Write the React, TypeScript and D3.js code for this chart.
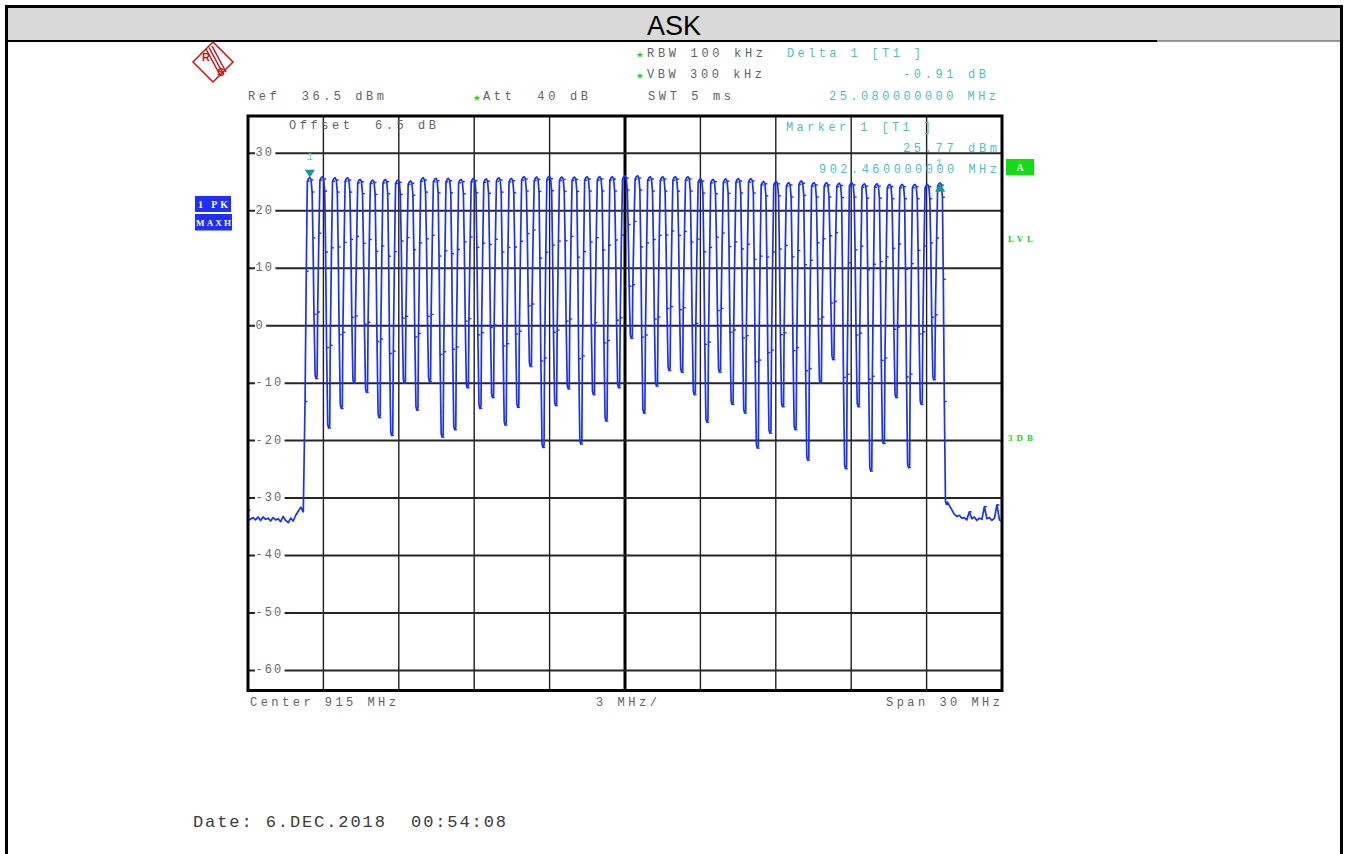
import React from 'react';
import * as d3 from 'd3';

// ---- instrument settings / axis ----
const centerFreq = 915; // MHz
const spanMHz = 30;
const refLevel = 36.5; // dBm
const dbPerDiv = 10;
const yTickValues = [30, 20, 10, 0, -10, -20, -30, -40, -50, -60];
const xDivisions = 10;

// ---- markers ----
const marker1Freq = 902.46; // MHz
const marker1Level = 25.77; // dBm
const deltaFreq = 25.08; // MHz
const deltaLevel = -0.91; // dB

// ---- trace data ----
// peak level of each hop channel (dBm), 51 channels from marker 1 to delta marker
const peakLevels = [
  25.77, 25.93, 25.75, 25.75, 25.47, 25.35, 25.47, 25.35, 25.2, 25.75,
  25.64, 25.64, 25.47, 25.64, 25.55, 25.75, 25.64, 25.93, 25.87, 26.0,
  25.87, 25.87, 25.93, 25.93, 25.93, 26.1, 26.1, 25.93, 25.93, 25.93,
  25.93, 25.58, 25.47, 25.55, 25.6, 25.6, 25.1, 25.1, 24.9, 25.2,
  24.9, 24.9, 24.8, 24.9, 24.7, 24.7, 24.6, 24.6, 24.6, 24.6, 24.86,
];
// trough level between consecutive channels (dBm)
const troughLevels = [
  -9.2, -17.8, -14.4, -10.0, -11.6, -16.0, -19.1, -10.0, -14.7, -9.7,
  -19.4, -18.1, -10.8, -14.4, -12.5, -17.3, -14.2, -7.1, -21.2, -13.9,
  -11.0, -20.6, -12.0, -16.6, -10.8, -2.2, -15.2, -10.5, -7.8, -8.1,
  -12.0, -16.8, -8.1, -13.7, -15.2, -21.3, -18.7, -14.1, -18.1, -23.4,
  -10.0, -5.9, -24.9, -14.1, -25.3, -20.5, -12.5, -24.7, -13.7, -9.4,
];
// noise floor left of the band: 900.0 .. 902.2 MHz, 0.1 MHz steps
const noiseLeftStart = 900.0;
const noiseLeftLevels = [
  -32.1, -33.9, -33.4, -33.8, -33.3, -33.9, -33.3, -33.7, -33.5, -34.0,
  -33.4, -33.8, -33.6, -34.1, -33.2, -33.9, -34.3, -33.5, -34.0, -33.0,
  -32.3, -31.6, -32.4,
];
// noise floor right of the band: 928.0 .. 930.0 MHz, 0.1 MHz steps
const noiseRightStart = 928.0;
const noiseRightLevels = [
  -31.1, -32.8, -33.2, -33.0, -33.5, -33.4, -33.8, -32.4, -33.6, -33.3,
  -33.9, -33.5, -33.7, -31.5, -33.6, -33.4, -33.9, -33.5, -31.2, -33.8, -34.0,
];
const noiseStep = 0.1;

// ---- layout ----
const W = 1349;
const H = 854;
const PL = 248, PR = 1002, PT = 116, PB = 690.5;

const GRAY = '#626262';
const TEAL = '#55bcbc';
const BLUE = '#1a30ff';
const GREEN = '#19d219';

type Pt = { f: number; v: number; tick?: boolean };

function buildTrace(): Pt[] {
  const pts: Pt[] = [];
  noiseLeftLevels.forEach((v, i) =>
    pts.push({ f: noiseLeftStart + i * noiseStep - (i === 1 ? 0.08 : 0), v, tick: i === 0 })
  );
  const step = deltaFreq / (peakLevels.length - 1);
  peakLevels.forEach((P, k) => {
    const f = marker1Freq + k * step;
    const low = k === 0 ? noiseLeftLevels[noiseLeftLevels.length - 1] : troughLevels[k - 1];
    const span = P - low;
    pts.push({ f: f - 0.19, v: low + 0.33 * span, tick: true });
    pts.push({ f: f - 0.14, v: low + 0.72 * span, tick: true });
    pts.push({ f: f - 0.1, v: P - 0.6, tick: true });
    pts.push({ f: f - 0.05, v: P - 0.15 });
    pts.push({ f, v: P });
    pts.push({ f: f + 0.05, v: P - 0.4, tick: true });
    const T = k < troughLevels.length ? troughLevels[k] : noiseRightLevels[0];
    const d = P - T;
    pts.push({ f: f + 0.09, v: P - 2.5, tick: true });
    pts.push({ f: f + 0.125, v: P - 0.3 * d, tick: true });
    pts.push({ f: f + 0.165, v: P - 0.68 * d, tick: true });
    pts.push({ f: f + 0.21, v: T + 0.6 });
    pts.push({ f: f + 0.245, v: T, tick: true });
    pts.push({ f: f + 0.29, v: T + 0.4 });
  });
  noiseRightLevels.forEach((v, i) => {
    if (i === 0) return;
    pts.push({ f: noiseRightStart + i * noiseStep, v, tick: v > -32.6 });
  });
  return pts;
}

const Txt = (p: {
  x: number; y: number; w?: number; children: string; fill?: string; size?: number;
  anchor?: 'start' | 'middle' | 'end'; family?: string; weight?: string | number;
}) => (
  <text
    x={p.x}
    y={p.y}
    dominantBaseline="central"
    textAnchor={p.anchor || 'start'}
    fill={p.fill || GRAY}
    fontSize={p.size || 12}
    fontFamily={p.family || "'Liberation Mono', 'DejaVu Sans Mono', monospace"}
    fontWeight={p.weight || 'normal'}
    textLength={p.w}
    lengthAdjust={p.w ? 'spacing' : undefined}
    style={{ whiteSpace: 'pre' }}
  >
    {p.children}
  </text>
);

const Star = ({ x, y }: { x: number; y: number }) => (
  <path d={d3.symbol(d3.symbolStar, 14)() || ''} transform={`translate(${x},${y})`} fill={GREEN} />
);

export default function App() {
  const x = d3.scaleLinear().domain([centerFreq - spanMHz / 2, centerFreq + spanMHz / 2]).range([PL, PR]);
  const y = d3.scaleLinear().domain([refLevel - 10 * dbPerDiv, refLevel]).range([PB, PT]);

  const trace = buildTrace();
  const line = d3.line<Pt>().x((d) => x(d.f)).y((d) => y(d.v));
  const xGrid = d3.range(1, xDivisions).map((i) => centerFreq - spanMHz / 2 + (i * spanMHz) / xDivisions);

  const m1x = x(marker1Freq);
  const m1y = y(marker1Level);
  const m2x = x(marker1Freq + deltaFreq);
  const m2y = y(marker1Level + deltaLevel);

  return (
    <svg width={W} height={H} style={{ position: 'absolute', left: 0, top: 0, background: '#fff' }}>
      {/* page frame and title band */}
      <rect x={0} y={0} width={W} height={H} fill="#fff" />
      <rect x={8} y={8} width={1332} height={33} fill="#d9d9d9" />
      <line x1={5} y1={6.5} x2={1343} y2={6.5} stroke="#000" strokeWidth={3} />
      <line x1={6.5} y1={5} x2={6.5} y2={H} stroke="#000" strokeWidth={3} />
      <line x1={1341.5} y1={5} x2={1341.5} y2={H} stroke="#000" strokeWidth={3} />
      <line x1={8} y1={41} x2={1157} y2={41} stroke="#000" strokeWidth={2} />
      <line x1={1157} y1={41} x2={1340} y2={41} stroke="#444" strokeWidth={1} />
      <text x={674} y={35} textAnchor="middle" fontFamily="'Liberation Sans', Arial, sans-serif" fontSize={27} fill="#000">ASK</text>

      {/* R&S logo */}
      <g stroke="#c81414" fill="none" strokeWidth={1.5}>
        <path d="M213,42 L233,62 L213,82 L193,62 Z" />
        <line x1={206} y1={49} x2={220} y2={75} />
        <line x1={209} y1={47.5} x2={223} y2={73.5} />
        <line x1={212} y1={46} x2={226} y2={72} />
      </g>
      <text x={206} y={61} fontSize={11} fontWeight="bold" fill="#c81414" fontFamily="'Liberation Sans', sans-serif" textAnchor="middle">R</text>
      <text x={221} y={76} fontSize={11} fontWeight="bold" fill="#c81414" fontFamily="'Liberation Sans', sans-serif" textAnchor="middle">S</text>

      {/* header texts */}
      <Star x={640} y={55} />
      <Txt x={647} y={54} w={116}>RBW 100 kHz</Txt>
      <Txt x={787} y={54} w={134} fill={TEAL}>Delta 1 [T1 ]</Txt>
      <Star x={640} y={76} />
      <Txt x={647} y={75} w={115}>VBW 300 kHz</Txt>
      <Txt x={903} y={75} w={83} fill={TEAL}>-0.91 dB</Txt>
      <Txt x={248} y={97} w={136}>Ref  36.5 dBm</Txt>
      <Star x={477} y={98} />
      <Txt x={483} y={97} w={105}>Att  40 dB</Txt>
      <Txt x={648} y={97} w={83}>SWT 5 ms</Txt>
      <Txt x={829} y={97} w={167} fill={TEAL}>25.080000000 MHz</Txt>

      {/* left blue boxes */}
      <rect x={195} y={196} width={36} height={16} fill="#1f2fff" />
      <Txt x={198} y={204.5} w={30} fill="#fff" size={10} weight="bold" family="'Liberation Serif', serif">1 PK</Txt>
      <rect x={195} y={214} width={37} height={16.5} fill="#1f2fff" />
      <Txt x={196} y={222.5} w={35} fill="#fff" size={9} weight="bold" family="'Liberation Serif', serif">MAXH</Txt>

      {/* right green annotations */}
      <rect x={1006} y={159} width={28} height={16} fill="#11dd11" />
      <Txt x={1020} y={167.5} fill="#fff" size={10} weight="bold" anchor="middle" family="'Liberation Serif', serif">A</Txt>
      <Txt x={1008} y={239} w={25} fill={GREEN} size={9} weight="bold" family="'Liberation Serif', serif">LVL</Txt>
      <Txt x={1008} y={438} w={25} fill={GREEN} size={9} weight="bold" family="'Liberation Serif', serif">3DB</Txt>

      {/* grid */}
      {xGrid.map((f, i) => (
        <line key={'vx' + i} x1={x(f)} x2={x(f)} y1={PT} y2={PB}
          stroke={f === centerFreq ? '#000' : '#1e1e1e'} strokeWidth={f === centerFreq ? 3 : 1.4} />
      ))}
      {yTickValues.map((t) => (
        <line key={'hy' + t} x1={PL} x2={PR} y1={y(t)} y2={y(t)} stroke="#262626" strokeWidth={2} />
      ))}
      {yTickValues.map((t) => {
        const label = t < 0 ? '-' + Math.abs(t) : String(t);
        const w = label.length * 9.2;
        return (
          <g key={'yl' + t}>
            <rect x={255} y={y(t) - 6} width={w + 2} height={12} fill="#fff" />
            <Txt x={255.5} y={y(t)} w={w - 2} fill="#6a6a6a">{label}</Txt>
          </g>
        );
      })}

      {/* in-plot texts */}
      <Txt x={289} y={126} w={147}>Offset  6.5 dB</Txt>
      <Txt x={786} y={128} w={145} fill={TEAL}>Marker 1 [T1 ]</Txt>
      <Txt x={903} y={149} w={94} fill={TEAL}>25.77 dBm</Txt>
      <Txt x={819} y={170} w={178} fill={TEAL}>902.460000000 MHz</Txt>

      {/* trace */}
      <path d={line(trace) || ''} fill="none" stroke={BLUE} strokeWidth={1.7} strokeLinejoin="round" />
      {trace.filter((p) => p.tick).map((p, i) => (
        <line key={'tk' + i} x1={x(p.f)} x2={x(p.f) + 2.4} y1={y(p.v)} y2={y(p.v)} stroke={BLUE} strokeWidth={1.4} />
      ))}

      {/* markers */}
      <path d={`M${m1x - 5},${m1y - 8} L${m1x + 5},${m1y - 8} L${m1x},${m1y} Z`} fill="#109a9a" />
      <Txt x={m1x} y={157} fill="#6ccaca" size={11} anchor="middle">1</Txt>
      <path d={`M${m2x - 5},${m2y + 9} L${m2x + 5},${m2y + 9} L${m2x},${m2y} Z`} fill="#109a9a" />
      <Txt x={m2x - 1} y={163} fill="#6ccaca" size={11} anchor="middle">1</Txt>

      {/* frame */}
      <rect x={PL} y={PT} width={PR - PL} height={PB - PT} fill="none" stroke="#000" strokeWidth={3} />

      {/* bottom texts */}
      <Txt x={250} y={703} w={146}>Center 915 MHz</Txt>
      <Txt x={596} y={703} w={61}>3 MHz/</Txt>
      <Txt x={886} y={703} w={114}>Span 30 MHz</Txt>
      <Txt x={193} y={822} w={313} size={17} fill="#3a3a3a" family="'Liberation Mono', monospace">Date: 6.DEC.2018  00:54:08</Txt>
    </svg>
  );
}
